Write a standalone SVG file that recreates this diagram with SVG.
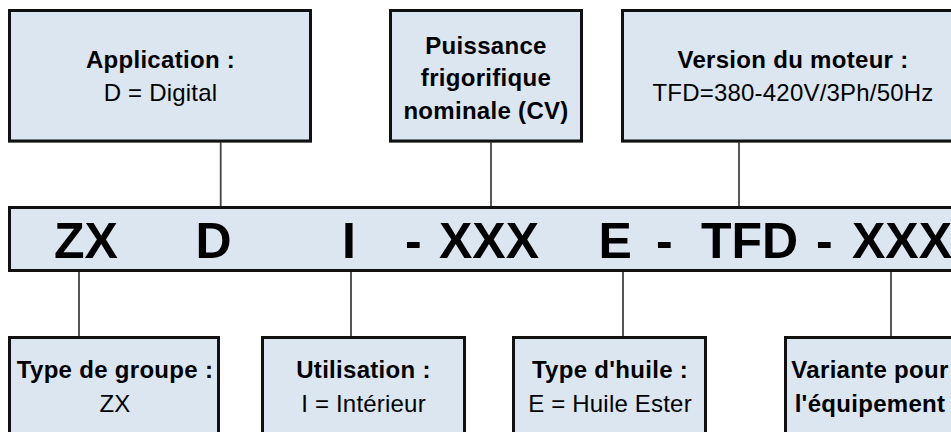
<svg xmlns="http://www.w3.org/2000/svg" width="951" height="432" viewBox="0 0 951 432">
  <style>
    .box { fill: #dce6f1; stroke: #111; stroke-width: 3; }
    .halo { fill: none; stroke: #8a8a8a; stroke-width: 1; }
    .link { stroke: #444; stroke-width: 1.8; fill: none; }
    .t { font-family: "Liberation Sans", Arial, sans-serif; font-size: 24px; letter-spacing: 0.2px; fill: #000; text-anchor: middle; }
    .b { font-weight: bold; letter-spacing: 0.3px; }
    .code { font-family: "Liberation Sans", Arial, sans-serif; font-size: 50px; font-weight: bold; fill: #000; }
  </style>

  <!-- connectors between the code band and the description boxes -->
  <g id="connectors">
    <line class="link" x1="220.7" y1="142" x2="220.7" y2="207"/>
    <line class="link" x1="491" y1="142" x2="491" y2="207"/>
    <line class="link" x1="739" y1="142" x2="739" y2="207"/>
    <line class="link" x1="79" y1="271" x2="79" y2="337"/>
    <line class="link" x1="351" y1="271" x2="351" y2="337"/>
    <line class="link" x1="623" y1="271" x2="623" y2="337"/>
    <line class="link" x1="891" y1="271" x2="891" y2="337"/>
  </g>

  <!-- top row -->
  <g id="application">
    <rect class="halo" x="8.5" y="9.5" width="303" height="132.5"/>
    <rect class="box" x="9.5" y="10.5" width="301" height="130.5"/>
    <text class="t b" x="160.5" y="68">Application :</text>
    <text class="t" x="160.5" y="101">D = Digital</text>
  </g>

  <g id="puissance">
    <rect class="halo" x="389.5" y="9.5" width="193" height="132.5"/>
    <rect class="box" x="390.5" y="10.5" width="191" height="130.5"/>
    <text class="t b" x="486" y="53.5">Puissance</text>
    <text class="t b" x="486" y="86">frigorifique</text>
    <text class="t b" x="486" y="118.5">nominale (CV)</text>
  </g>

  <g id="version-moteur">
    <rect class="halo" x="621.5" y="9.5" width="342" height="132.5"/>
    <rect class="box" x="622.5" y="10.5" width="340" height="130.5"/>
    <text class="t b" x="793" y="68">Version du moteur :</text>
    <text class="t" x="793" y="100.5">TFD=380-420V/3Ph/50Hz</text>
  </g>

  <!-- model code band -->
  <g id="code">
    <rect class="halo" x="8.5" y="206.5" width="960" height="65"/>
    <rect class="box" x="9.5" y="207.5" width="958" height="63"/>
    <text class="code" y="258">
      <tspan x="54">ZX</tspan>
      <tspan x="195.5">D</tspan>
      <tspan x="342">I</tspan>
      <tspan x="405">-</tspan>
      <tspan x="439">XXX</tspan>
      <tspan x="598.5">E</tspan>
      <tspan x="656">-</tspan>
      <tspan x="701">TFD</tspan>
      <tspan x="816">-</tspan>
      <tspan x="852">XXX</tspan>
    </text>
  </g>

  <!-- bottom row -->
  <g id="type-groupe">
    <rect class="halo" x="8.5" y="336.5" width="211" height="132"/>
    <rect class="box" x="9.5" y="337.5" width="209" height="130"/>
    <text class="t b" x="115" y="378">Type de groupe :</text>
    <text class="t" x="115" y="411.5">ZX</text>
  </g>

  <g id="utilisation">
    <rect class="halo" x="261.5" y="336.5" width="204" height="132"/>
    <rect class="box" x="262.5" y="337.5" width="202" height="130"/>
    <text class="t b" x="363.5" y="378">Utilisation :</text>
    <text class="t" x="363.5" y="411.5">I = Intérieur</text>
  </g>

  <g id="type-huile">
    <rect class="halo" x="512.5" y="336.5" width="194" height="132"/>
    <rect class="box" x="513.5" y="337.5" width="192" height="130"/>
    <text class="t b" x="610" y="378">Type d'huile :</text>
    <text class="t" x="610" y="411.5">E = Huile Ester</text>
  </g>

  <g id="variante">
    <rect class="halo" x="784.5" y="336.5" width="182" height="132"/>
    <rect class="box" x="785.5" y="337.5" width="180" height="130"/>
    <text class="t b" x="870" y="378">Variante pour</text>
    <text class="t b" x="870" y="411.5">l'équipement</text>
  </g>
</svg>
